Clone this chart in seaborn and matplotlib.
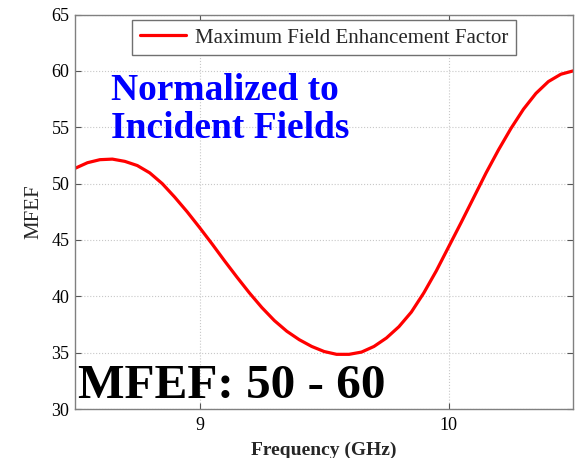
import matplotlib
matplotlib.use("Agg")
import matplotlib.pyplot as plt
import seaborn as sns
import pandas as pd

freq_ghz = [8.50, 8.55, 8.60, 8.65, 8.70, 8.75, 8.80, 8.85, 8.90, 8.95,
            9.00, 9.05, 9.10, 9.15, 9.20, 9.25, 9.30, 9.35, 9.40, 9.45,
            9.50, 9.55, 9.60, 9.65, 9.70, 9.75, 9.80, 9.85, 9.90, 9.95,
            10.00, 10.05, 10.10, 10.15, 10.20, 10.25, 10.30, 10.35, 10.40, 10.45,
            10.50]
mfef = [51.35, 51.85, 52.12, 52.17, 51.97, 51.60, 50.95, 50.00, 48.80, 47.50,
        46.10, 44.65, 43.15, 41.70, 40.30, 39.00, 37.85, 36.90, 36.15, 35.55,
        35.10, 34.85, 34.85, 35.05, 35.55, 36.30, 37.30, 38.60, 40.30, 42.25,
        44.40, 46.55, 48.75, 50.95, 53.00, 54.90, 56.60, 58.00, 59.05, 59.70,
        60.00]
series_name = "Maximum Field Enhancement Factor"
x_ticks = [9, 10]
y_ticks = [30, 35, 40, 45, 50, 55, 60, 65]
note_lines = ["Normalized to", "Incident Fields"]
range_note = "MFEF: 50 - 60"

sns.set_style("ticks")
plt.rcParams["font.family"] = ["Liberation Serif", "DejaVu Serif"]

df = pd.DataFrame({"Frequency (GHz)": freq_ghz, "MFEF": mfef, "series": series_name})

fig = plt.figure(figsize=(5.76, 4.58), dpi=100)
ax = fig.add_axes([75 / 576, 1 - 409 / 458, (573.3 - 75) / 576, (409 - 14.5) / 458])

sns.lineplot(data=df, x="Frequency (GHz)", y="MFEF", hue="series",
             palette=["#ff0000"], linewidth=2.3, ax=ax, sort=False)

ax.set_xlim(8.5, 10.5)
ax.set_ylim(30, 65)
ax.set_xticks(x_ticks)
ax.set_yticks(y_ticks)
ax.grid(True, linestyle=":", color="#c8c8c8", linewidth=0.8)
ax.set_axisbelow(True)
for s in ax.spines.values():
    s.set_visible(True)
    s.set_color("#808080")
    s.set_linewidth(1.0)
ax.tick_params(direction="in", length=4, width=0.8, color="#555555",
               top=True, right=True, labelsize=13, labelcolor="black")
ax.tick_params(axis="y", pad=4)
ax.tick_params(axis="x", pad=6)

ax.set_xlabel("Frequency (GHz)", fontsize=14, fontweight="bold", labelpad=5)
ax.set_ylabel("MFEF", fontsize=15, labelpad=6)

leg = ax.legend(loc="upper center", bbox_to_anchor=(0.5, 0.986), fontsize=15,
                frameon=True, fancybox=False, handlelength=2.2, borderpad=0.38,
                handletextpad=0.4, borderaxespad=0.0)
leg.get_frame().set_edgecolor("#707070")
leg.get_frame().set_linewidth(1.0)
leg.get_frame().set_alpha(1)

for line_text, base_px in zip(note_lines, [100, 138]):
    ax.text(111, 458 - base_px, line_text, transform=None, fontsize=27,
            fontweight="bold", color="#0000ff", va="baseline", ha="left")
ax.text(78, 458 - 398, range_note, transform=None, fontsize=35.5,
        fontweight="bold", color="black", va="baseline", ha="left")

fig.savefig("out.png", dpi=100)
